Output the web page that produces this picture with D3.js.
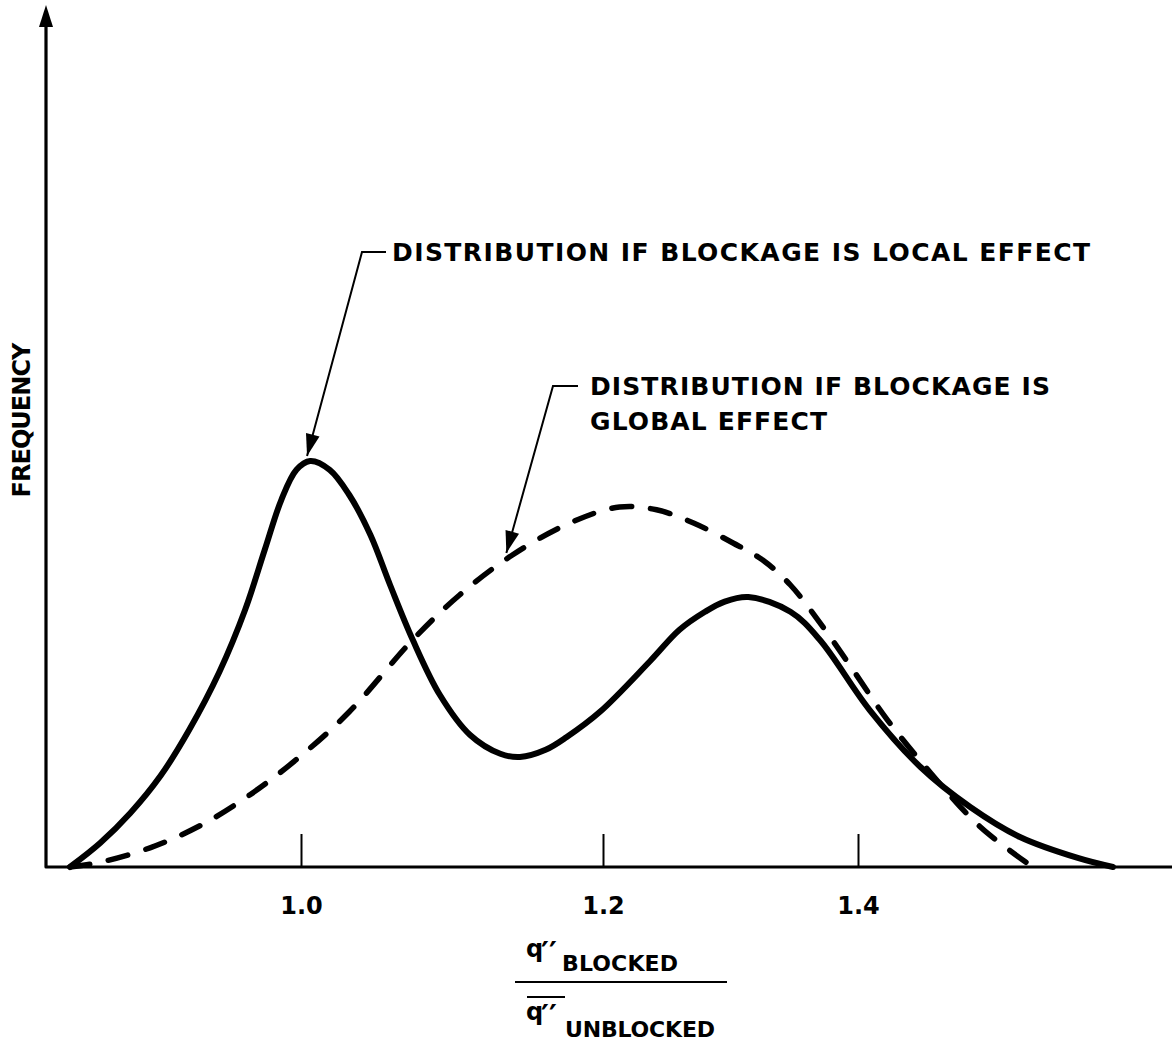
<!DOCTYPE html>
<html>
<head>
<meta charset="utf-8">
<script src="https://cdn.jsdelivr.net/npm/d3@7"></script>
<style>
html,body{margin:0;padding:0;background:#fff;}
svg{display:block;}
text{font-family:"DejaVu Sans","Liberation Sans",Arial,sans-serif;font-weight:bold;fill:#000;}
</style>
</head>
<body>
<svg id="chart" width="1172" height="1044"></svg>
<script>
// ---- data ----
const tickValues = [1.0, 1.2, 1.4];
const tickLabels = ["1.0", "1.2", "1.4"];

const localX = [0.847,0.867,0.887,0.907,0.926,0.946,0.963,0.976,0.987,0.997,1.006,1.019,1.032,1.046,1.059,1.074,1.092,1.112,1.132,1.145,1.162,1.176,1.198,1.237,1.260,1.280,1.295,1.314,1.347,1.370,1.409,1.449,1.488,1.527,1.573,1.600];
const localY = [0,0.6,1.35,2.28,3.43,4.88,6.43,7.93,9.18,9.93,10.15,9.93,9.3,8.3,7.05,5.68,4.3,3.3,2.83,2.75,2.93,3.25,3.88,5.15,5.93,6.38,6.63,6.75,6.38,5.68,3.93,2.5,1.5,0.75,0.22,0];

const globalX = [0.847,0.867,0.900,0.933,0.966,0.999,1.032,1.074,1.105,1.140,1.178,1.213,1.242,1.271,1.302,1.325,1.347,1.373,1.396,1.423,1.457,1.496,1.537];
const globalY = [0,0.12,0.48,1.03,1.8,2.75,3.88,5.68,6.8,7.8,8.6,9.0,8.93,8.6,8.1,7.68,7.05,5.98,4.93,3.68,2.35,1.0,0];

const localLabel = "DISTRIBUTION IF BLOCKAGE IS LOCAL EFFECT";
const globalLabel = ["DISTRIBUTION IF BLOCKAGE IS", "GLOBAL EFFECT"];
const yTitle = "FREQUENCY";

// ---- layout ----
const svg = d3.select("#chart");
const axisY0 = 867, axisX0 = 46;

// hand-drawn axis is not evenly spaced: piecewise linear scale
const x = d3.scaleLinear().domain([1.0, 1.2, 1.4]).range([301, 603, 858]);
const y = d3.scaleLinear().domain([0, 20]).range([axisY0, 67]);

const line = d3.line().x(d => x(d[0])).y(d => Math.min(axisY0, y(d[1]))).curve(d3.curveCatmullRom.alpha(0.5));

// axes lines
svg.append("path")
  .attr("d", `M${axisX0},12 L${axisX0},${axisY0} L1172,${axisY0}`)
  .attr("fill", "none").attr("stroke", "#000").attr("stroke-width", 3.2)
  .attr("stroke-linejoin", "round");
// y arrow head
svg.append("path")
  .attr("d", `M${axisX0},5 L${axisX0-7},27 L${axisX0+7},27 Z`)
  .attr("fill", "#000");

// x axis ticks + labels via d3 axis
const xAxis = d3.axisBottom(x).tickValues(tickValues)
  .tickFormat((d, i) => tickLabels[i]).tickSizeInner(-33).tickSizeOuter(0).tickPadding(30);
const gx = svg.append("g").attr("transform", `translate(0,${axisY0})`).call(xAxis)
  .attr("font-size", 24).attr("font-family", null);
gx.select(".domain").remove();
gx.selectAll(".tick line").attr("stroke", "#000").attr("stroke-width", 2);
gx.selectAll(".tick text").attr("font-size", 24).attr("fill", "#000");

// curves
const localData = localX.map((v, i) => [v, localY[i]]);
const globalData = globalX.map((v, i) => [v, globalY[i]]);

svg.append("path").datum(globalData).attr("d", line)
  .attr("fill", "none").attr("stroke", "#000").attr("stroke-width", 5.5)
  .attr("stroke-dasharray", "20,19").attr("stroke-linecap", "round");
svg.append("path").datum(localData).attr("d", line)
  .attr("fill", "none").attr("stroke", "#000").attr("stroke-width", 6)
  .attr("stroke-linecap", "round");

// annotation helper
function leader(cx, cy, hx, tx, ty) {
  svg.append("path").attr("d", `M${hx},${cy} L${cx},${cy} L${tx},${ty}`)
    .attr("fill", "none").attr("stroke", "#000").attr("stroke-width", 2);
  const ang = Math.atan2(ty - cy, tx - cx);
  const L = 22, W = 7;
  const bx = tx - L * Math.cos(ang), by = ty - L * Math.sin(ang);
  const px = -Math.sin(ang) * W, py = Math.cos(ang) * W;
  svg.append("path").attr("d", `M${tx},${ty} L${bx+px},${by+py} L${bx-px},${by-py} Z`).attr("fill", "#000");
}
// local effect annotation -> peak of solid curve
leader(362, 252, 386, x(1.004), y(10.15) - 5);
svg.append("text").attr("x", 392).attr("y", 261).attr("font-size", 25)
  .attr("textLength", 698).attr("lengthAdjust", "spacing").text(localLabel);

// global effect annotation -> dashed curve
leader(553, 386, 578, x(1.136), y(7.7) - 6);
svg.append("text").attr("x", 590).attr("y", 395).attr("font-size", 25)
  .attr("textLength", 460).attr("lengthAdjust", "spacing").text(globalLabel[0]);
svg.append("text").attr("x", 590).attr("y", 430).attr("font-size", 25)
  .attr("textLength", 237).attr("lengthAdjust", "spacing").text(globalLabel[1]);

// y title
svg.append("text").attr("transform", "translate(30,420) rotate(-90)")
  .attr("text-anchor", "middle").attr("font-size", 24)
  .attr("textLength", 155).attr("lengthAdjust", "spacing").text(yTitle);

// x title as fraction
const xt = svg.append("g");
function qq(xp, yp) {
  xt.append("text").attr("x", xp).attr("y", yp).attr("font-size", 24).text("q");
  xt.append("text").attr("x", xp + 15).attr("y", yp + 6).attr("font-size", 30)
    .attr("font-weight", "normal").text("\u2032\u2032");
}
qq(526, 957);
xt.append("text").attr("x", 562).attr("y", 971).attr("font-size", 22)
  .attr("textLength", 116).attr("lengthAdjust", "spacing").text("BLOCKED");
xt.append("line").attr("x1", 515).attr("x2", 727).attr("y1", 982).attr("y2", 982)
  .attr("stroke", "#000").attr("stroke-width", 2.2);
xt.append("line").attr("x1", 527).attr("x2", 565).attr("y1", 997).attr("y2", 997)
  .attr("stroke", "#000").attr("stroke-width", 2);
qq(526, 1020);
xt.append("text").attr("x", 565).attr("y", 1037).attr("font-size", 22)
  .attr("textLength", 150).attr("lengthAdjust", "spacing").text("UNBLOCKED");
</script>
</body>
</html>
